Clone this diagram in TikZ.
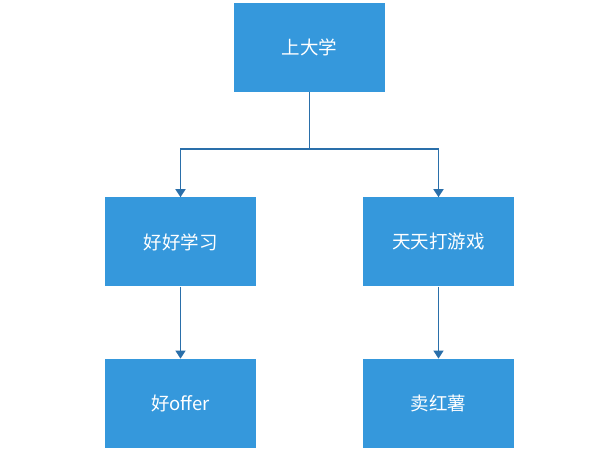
\documentclass[tikz,border=0pt]{standalone}
\usepackage{fontspec}
\newfontfamily\cjk{Noto Sans CJK SC}
\usetikzlibrary{positioning}
\usetikzlibrary{arrows.meta}
\definecolor{boxblue}{HTML}{3598DC}
\definecolor{lineblue}{HTML}{2A6FAA}

\begin{document}
\begin{tikzpicture}[
		x=1pt, y=-1pt,
		box/.style={rectangle, fill=boxblue, text=white, minimum width=151pt, minimum height=89pt, inner sep=0pt, font=\cjk\fontsize{18.5}{22}\selectfont},
		arrow/.style={-{Triangle[width=10pt,length=8pt]}, draw=lineblue, line width=1.7pt}
		]
		\useasboundingbox (0,0) rectangle (592,454);
		% Nodes
		\node[box] (uni) at (309.5,47.5) {上大学};
		\node[box, below=105pt of uni, xshift=-129pt] (study) {好好学习};
		\node[box, below=105pt of uni, xshift=129pt] (game) {天天打游戏};
		\node[box, below=72pt of study] (offer) {好offer};
		\node[box, below=72pt of game] (potato) {卖红薯};
		
		% Arrows
		\draw[arrow] (uni.south) -- ++(0,-57pt) -| (study.north);
		\draw[arrow] (uni.south) -- ++(0,-57pt) -| (game.north);
		\draw[arrow] (study) -- (offer);
		\draw[arrow] (game) -- (potato);
	\end{tikzpicture}
\end{document}
